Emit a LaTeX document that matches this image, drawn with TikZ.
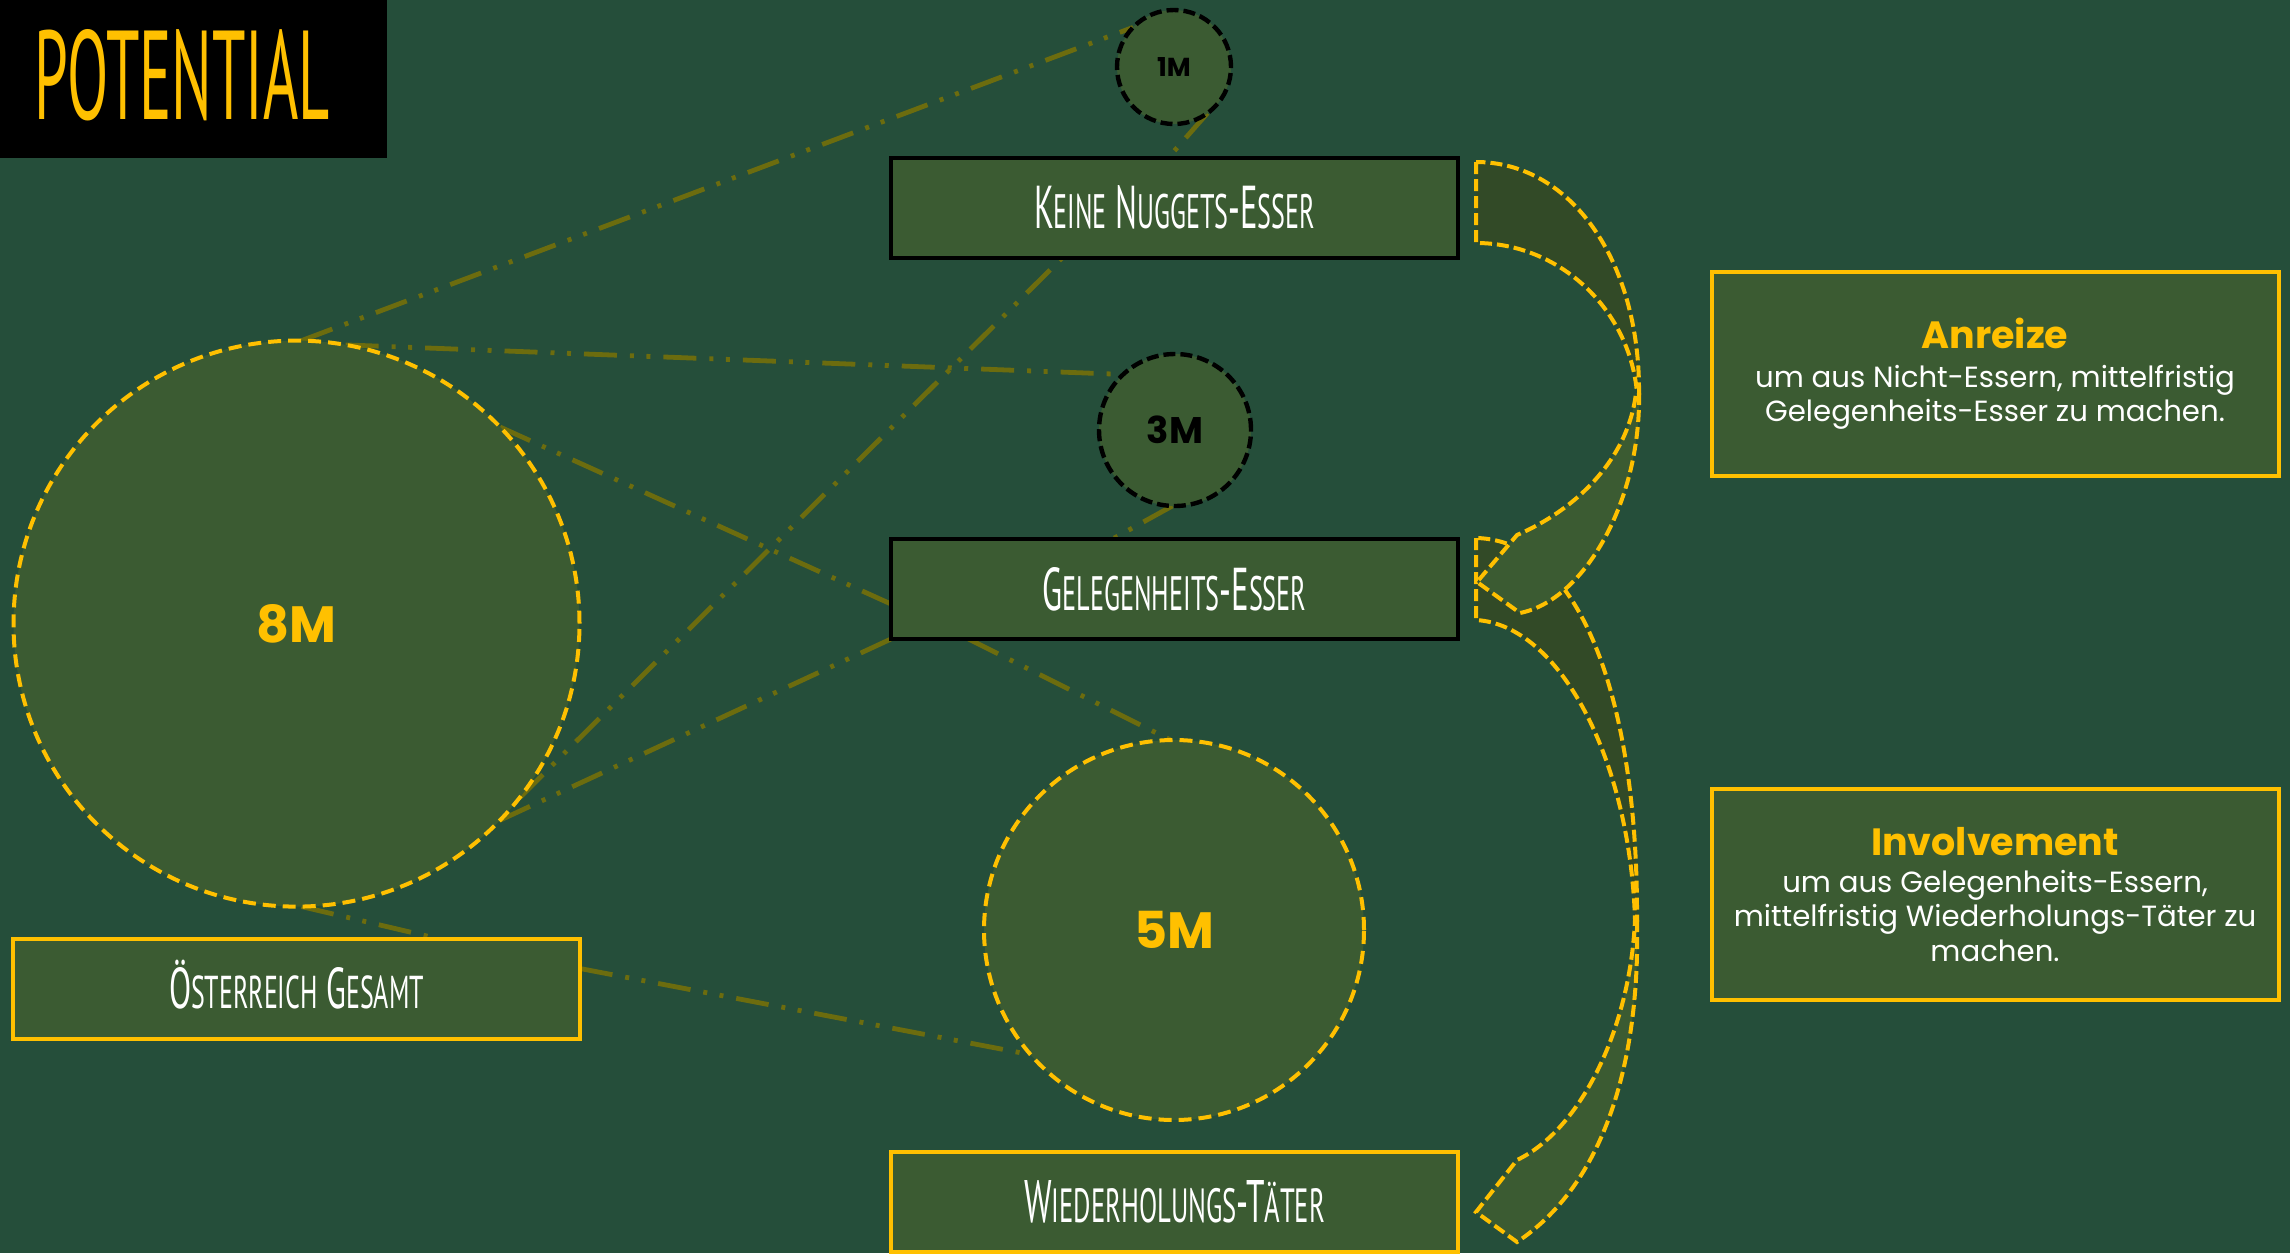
\documentclass[tikz,border=0pt]{standalone}
\usepackage{graphicx}
\usepackage{fontspec}
\setmainfont{Poppins}
\newfontfamily\amfont{PT Sans}
\usetikzlibrary{calc,backgrounds}
\definecolor{bg}{RGB}{37,78,58}
\definecolor{boxfill}{RGB}{59,91,50}
\definecolor{darkfill}{RGB}{50,74,39}
\definecolor{gold}{RGB}{255,192,0}
\definecolor{olive}{RGB}{108,108,14}
\newcommand\smc[1]{{\fontsize{24}{24}\selectfont #1}}
\newcommand\amlabel[3]{\resizebox{#1}{#2}{\amfont\fontsize{30}{30}\selectfont #3}}
\begin{document}
\begin{tikzpicture}[x=0.5pt,y=-0.5pt,
  box/.style={rectangle, minimum width=283.5pt, minimum height=50pt, inner sep=0pt, outer sep=0pt, fill=boxfill, line width=2pt, text=white},
  blackbox/.style={box, draw=black},
  goldbox/.style={box, draw=gold},
  infobox/.style={goldbox, align=center, font=\fontsize{14.6}{17.3}\selectfont},
  link/.style={draw=olive, line width=2.4pt, dash pattern=on 16.5pt off 6.5pt on 2pt off 6.25pt on 2pt off 6.5pt},
  bigcirc/.style={circle, fill=boxfill, draw=gold, line width=2pt, dash pattern=on 6.5pt off 3.5pt, inner sep=0pt, outer sep=0pt, text=gold},
  smallcirc/.style={circle, fill=boxfill, draw=black, line width=2.2pt, dash pattern=on 6pt off 2.5pt, inner sep=0pt, outer sep=0pt, text=black},
  band/.style={draw=gold, line width=2pt, dash pattern=on 6pt off 2.5pt}
]
\useasboundingbox (0,0) rectangle (2290,1253);

% title
\node[fill=black, minimum width=193.5pt, minimum height=79pt, inner sep=0pt, outer sep=0pt] (tbox) at (193.5,79) {};
\node[inner sep=0pt, text=gold] (title) at (182.5,75) {\resizebox{147.5pt}{45pt}{\amfont POTENTIAL}};

% boxes
\node[blackbox] (kei) at (1174.5,207.5) {\amlabel{140.5pt}{21.5pt}{K\smc{EINE} N\smc{UGGETS}-E\smc{SSER}}};
\node[blackbox] (gel) at (1174.5,589) {\amlabel{132pt}{21.5pt}{G\smc{ELEGENHEITS}-E\smc{SSER}}};
\node[goldbox] (wie) at (1174.5,1202) {\amlabel{150.5pt}{21pt}{W\smc{IEDERHOLUNGS}-T\smc{\smash{Ä}TER}}};
\node[goldbox] (oes) at (296.5,988.5) {\amlabel{127.5pt}{20.5pt}{\smash{Ö}\smc{STERREICH} G\smc{ESAMT}}};

\node[infobox, minimum height=102pt] (anr) at (1995,374)
  {{\fontsize{19}{19}\selectfont\bfseries\color{gold}Anreize}\\[2pt]
   um aus Nicht-Essern, mittelfristig\\
   Gelegenheits-Esser zu machen.};
\node[infobox, minimum height=105.5pt] (inv) at (1995,894.5)
  {{\fontsize{19}{19}\selectfont\bfseries\color{gold}Involvement}\\[1pt]
   um aus Gelegenheits-Essern,\\
   mittelfristig Wiederholungs-Täter zu\\
   machen.};

% circles
\node[bigcirc, minimum size=283pt, font=\fontsize{25.5}{25.5}\selectfont\bfseries] (c8) at (296.5,623.6) {8M};
\node[bigcirc, minimum size=190pt, font=\fontsize{25.5}{25.5}\selectfont\bfseries] (c5) at (1174,930) {5M};
\node[smallcirc, minimum size=57pt, font=\fontsize{13}{13}\selectfont\bfseries] (c1) at (1174,67) {1M};
\node[smallcirc, minimum size=76pt, font=\fontsize{18.5}{18.5}\selectfont\bfseries] (c3) at (1175,430) {3M};

% connectors (behind)
\begin{scope}[on background layer]
\fill[bg] (0,0) rectangle (2290,1253);
\draw[link] (c8.89) -- (c1.136);
\draw[link] (c8.80) -- (c3.133);
\draw[link] (c8.44) -- ($(gel.west)+(0,15)$);
\draw[link] (c8.-38) -- ($(kei.south)+(-112,0)$);
\draw[link] (c8.-44) -- (gel.south west);
\draw[link] (c1.-54) -- ($(kei.north)+(-6,0)$);
\draw[link] (c3.-92) -- ($(gel.north)+(-62,0)$);
\draw[link] ($(gel.south)+(-206,0)$) -- (c5.91);
\draw[link] (c8.-89) -- ($(oes.north)+(141,0)$);
\draw[link] ($(oes.east)+(0,-20)$) -- (c5.221);
\end{scope}

% curved bands
\filldraw[band, fill=darkfill] (1476,162) -- (1476,243) .. controls (1560,243) and (1630,310) .. (1637,393) -- (1639,393) .. controls (1640,260) and (1570,162) .. cycle;
\filldraw[band, fill=darkfill] (1476,538) -- (1476,620) .. controls (1560,625) and (1630,760) .. (1635,920) -- (1637,920) .. controls (1638,700) and (1580,540) .. cycle;
\filldraw[band, fill=boxfill] (1639,393) .. controls (1641,500) and (1585,600) .. (1520,613) -- (1477,582) -- (1517,535) .. controls (1575,510) and (1628,460) .. (1636,393) -- cycle;
\filldraw[band, fill=boxfill] (1637,920) .. controls (1640,1050) and (1610,1180) .. (1517,1242) -- (1476,1212) -- (1517,1160) .. controls (1580,1130) and (1630,1030) .. (1635,920) -- cycle;
\end{tikzpicture}
\end{document}
